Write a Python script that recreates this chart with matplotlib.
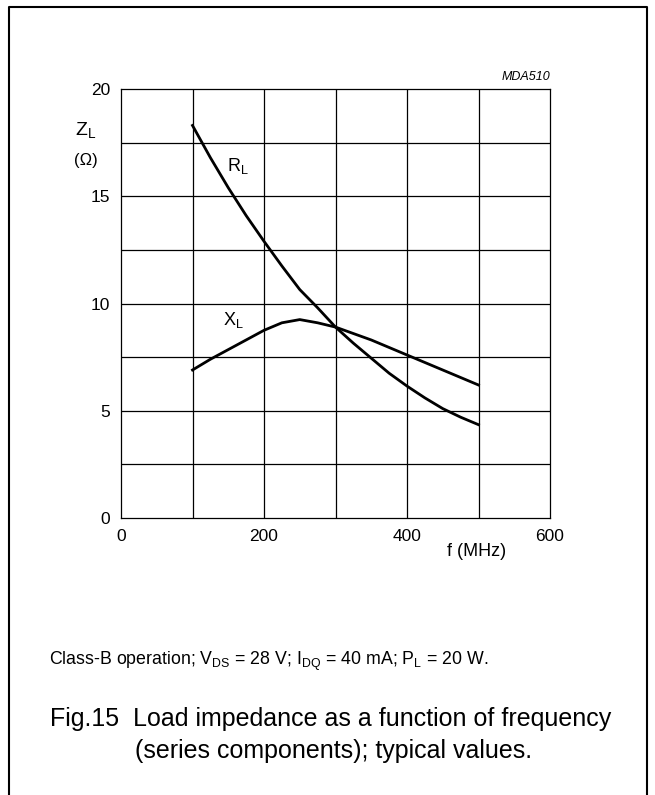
import matplotlib.pyplot as plt

plt.rcParams['font.family'] = ['Liberation Sans', 'DejaVu Sans']

# values
freq = [100, 125, 150, 175, 200, 225, 250, 275, 300, 325, 350, 375, 400, 425, 450, 475, 500]
r_load = [18.3, 16.8, 15.4, 14.1, 12.9, 11.75, 10.65, 9.8, 8.9, 8.15, 7.45, 6.75, 6.15, 5.6, 5.1, 4.7, 4.35]
x_load = [6.9, 7.4, 7.85, 8.3, 8.75, 9.1, 9.25, 9.1, 8.9, 8.6, 8.3, 7.95, 7.6, 7.25, 6.9, 6.55, 6.2]

x_ticks = [0, 200, 400, 600]
y_ticks = [0, 5, 10, 15, 20]

fig = plt.figure(figsize=(6.55, 7.95), dpi=100)

# outer frame (no bottom edge)
fig.add_artist(plt.Line2D([9/655, 9/655, 647/655, 647/655], [0, 1 - 7/795, 1 - 7/795, 0],
                          transform=fig.transFigure, color='black', lw=1.5))

ax = fig.add_axes([121/655, 1 - 518/795, 429/655, 429/795])
ax.set_xlim(0, 600)
ax.set_ylim(0, 20)

# grid
for gx in range(100, 600, 100):
    ax.axvline(gx, color='black', lw=0.9)
for gy in [2.5, 5, 7.5, 10, 12.5, 15, 17.5]:
    ax.axhline(gy, color='black', lw=0.9)
for s in ax.spines.values():
    s.set_linewidth(0.9)

ax.plot(freq, r_load, color='black', lw=2)
ax.plot(freq, x_load, color='black', lw=2)

ax.set_xticks(x_ticks)
ax.set_yticks(y_ticks)
ax.tick_params(length=0, labelsize=12.5, pad=8)

ax.text(148, 16.2, 'R$_\\mathregular{L}$', fontsize=13)
ax.text(143, 9.0, 'X$_\\mathregular{L}$', fontsize=13)
ax.text(600, 20.3, 'MDA510', fontsize=9, style='italic', ha='right', va='bottom')

fig.text(86/655, 1 - 131/795, 'Z$_\\mathregular{L}$', fontsize=14, ha='center', va='center')
fig.text(86/655, 1 - 160/795, '(\u03a9)', fontsize=12, ha='center', va='center')
fig.text(477/655, 1 - 552/795, 'f (MHz)', fontsize=13, ha='center', va='center')

fig.text(49/655, 1 - 661/795,
         'Class-B operation; V$_\\mathregular{DS}$ = 28 V; I$_\\mathregular{DQ}$ = 40 mA; P$_\\mathregular{L}$ = 20 W.',
         fontsize=12.8, va='center')
fig.text(50/655, 1 - 719/795, 'Fig.15  Load impedance as a function of frequency',
         fontsize=18, va='center')
fig.text(135/655, 1 - 751/795, '(series components); typical values.',
         fontsize=18, va='center')

fig.savefig('out.png', dpi=100)
